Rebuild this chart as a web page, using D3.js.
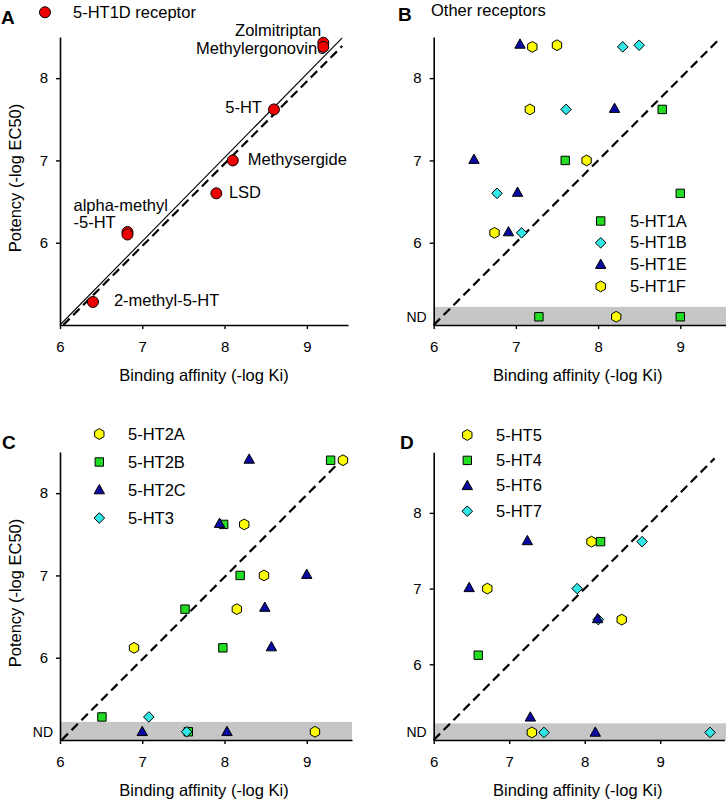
<!DOCTYPE html>
<html>
<head>
<meta charset="utf-8">
<script src="https://cdn.jsdelivr.net/npm/d3@7"></script>
<style>
  body { margin: 0; background: #fff; }
  svg { display: block; font-family: "Liberation Sans", Arial, sans-serif; }
</style>
</head>
<body>
<svg id="chart" width="726" height="802"></svg>
<script>
// values; ND = not determined (plotted in grey band)
const ND = 5.1;
const xTicks = [6, 7, 8, 9];
const yTicks = [6, 7, 8];

// A: 5-HT1D
const ht1dNames = ["Zolmitriptan", "Methylergonovine", "5-HT", "Methysergide", "LSD", "alpha-methyl-5-HT", "alpha-methyl-5-HT", "2-methyl-5-HT"];
const ht1dKi = [9.2, 9.2, 8.6, 8.1, 7.9, 6.82, 6.82, 6.4];
const ht1dEc50 = [8.43, 8.38, 7.62, 7.0, 6.6, 6.13, 6.1, 5.28];
const fitLine = [[6, 5], [9.43, 8.49]];
const unityLineA = [[6.04, 5], [9.43, 8.39]];

// B: other 5-HT1 receptors
const ht1aKi = [8.78, 7.6, 9.0, 7.28, 9.0];
const ht1aEc50 = [7.62, 7.0, 6.6, ND, ND];
const ht1bKi = [8.3, 8.5, 7.61, 6.77, 7.07];
const ht1bEc50 = [8.38, 8.4, 7.62, 6.6, 6.12];
const ht1eKi = [7.05, 8.2, 6.49, 7.02, 6.91];
const ht1eEc50 = [8.41, 7.63, 7.01, 6.61, 6.13];
const ht1fKi = [7.2, 7.5, 7.17, 7.86, 6.74, 8.22];
const ht1fEc50 = [8.38, 8.4, 7.62, 7.0, 6.12, ND];

// C: 5-HT2 / 5-HT3
const ht2aKi = [9.44, 8.24, 8.48, 8.15, 6.9, 9.1];
const ht2aEc50 = [8.4, 7.62, 7.0, 6.59, 6.12, ND];
const ht2bKi = [9.29, 7.99, 8.19, 7.52, 7.98, 6.51, 7.56];
const ht2bEc50 = [8.4, 7.62, 7.0, 6.59, 6.12, 5.28, ND];
const ht2cKi = [8.3, 7.94, 9.0, 8.49, 8.57, 7.0, 8.03];
const ht2cEc50 = [8.41, 7.63, 7.01, 6.61, 6.13, ND, ND];
const ht3Ki = [7.08, 7.54];
const ht3Ec50 = [5.28, ND];

// D: 5-HT4 to 5-HT7
const ht5Ki = [8.09, 6.71, 8.49, 7.3];
const ht5Ec50 = [7.62, 7.0, 6.59, ND];
const ht4Ki = [8.21, 6.59];
const ht4Ec50 = [7.62, 6.12];
const ht6Ki = [7.24, 6.47, 8.17, 7.28, 8.14];
const ht6Ec50 = [7.63, 7.01, 6.6, 5.3, ND];
const ht7Ki = [8.76, 7.9, 8.18, 7.46, 9.66];
const ht7Ec50 = [7.62, 7.0, 6.59, ND, ND];

const svg = d3.select("#chart");
const FONT = 16.5;
const colors = {circle: "#ee0000", square: "#22dd22", diamond: "#33e6e6", triangle: "#0a0aa0", hexagon: "#ffff00"};

function shapePath(type) {
  const p = d3.path();
  if (type === "circle") { p.arc(0, 0, 5.5, 0, 2 * Math.PI); }
  else if (type === "square") { p.rect(-4.2, -4.2, 8.4, 8.4); }
  else if (type === "diamond") { p.moveTo(0, -5.3); p.lineTo(5.3, 0); p.lineTo(0, 5.3); p.lineTo(-5.3, 0); p.closePath(); }
  else if (type === "triangle") { p.moveTo(0, -5.5); p.lineTo(5.2, 3.8); p.lineTo(-5.2, 3.8); p.closePath(); }
  else if (type === "hexagon") {
    for (let i = 0; i < 6; i++) {
      const a = Math.PI / 2 + i * Math.PI / 3;
      const px = 5.4 * Math.cos(a), py = 5.4 * Math.sin(a);
      i === 0 ? p.moveTo(px, py) : p.lineTo(px, py);
    }
    p.closePath();
  }
  return p.toString();
}

function drawPanel(cfg) {
  const g = svg.append("g");
  const x = d3.scaleLinear().domain(cfg.xDomain).range(cfg.xRange);
  const y = d3.scaleLinear().domain(cfg.yDomain).range(cfg.yRange);

  if (cfg.nd) {
    g.append("rect")
      .attr("x", x(6)).attr("y", y(5.22))
      .attr("width", cfg.bandEnd - x(6)).attr("height", y(5) - y(5.22))
      .attr("fill", "#c6c6c6");
  }

  const xAxis = g.append("g")
    .attr("transform", `translate(0,${y(cfg.yDomain[0])})`)
    .call(d3.axisBottom(x).tickValues(xTicks).tickSize(4).tickSizeOuter(0).tickPadding(12).tickFormat(d3.format("d")));
  const yAxis = g.append("g")
    .attr("transform", `translate(${x(cfg.xDomain[0])},0)`)
    .call(d3.axisLeft(y).tickValues(yTicks).tickSize(4).tickSizeOuter(0).tickPadding(8).tickFormat(d3.format("d")));
  [xAxis, yAxis].forEach(a => {
    a.select(".domain").attr("stroke", "#000").attr("stroke-width", 1.6);
    a.selectAll(".tick line").attr("stroke", "#000").attr("stroke-width", 1.4);
    a.selectAll("text").attr("font-size", 15).attr("fill", "#000").attr("font-family", "Liberation Sans, Arial, sans-serif");
  });

  if (cfg.nd) {
    g.append("text")
      .attr("x", x(6) - 7).attr("y", y(ND) + 5)
      .attr("text-anchor", "end").attr("font-size", 14).text("ND");
  }

  if (cfg.fit) {
    g.append("line")
      .attr("x1", x(cfg.fit[0][0])).attr("y1", y(cfg.fit[0][1]))
      .attr("x2", x(cfg.fit[1][0])).attr("y2", y(cfg.fit[1][1]))
      .attr("stroke", "#000").attr("stroke-width", 1.1);
  }
  g.append("line")
    .attr("x1", x(cfg.unity[0][0])).attr("y1", y(cfg.unity[0][1]))
    .attr("x2", x(cfg.unity[1][0])).attr("y2", y(cfg.unity[1][1]))
    .attr("stroke", "#000").attr("stroke-width", 2.2).attr("stroke-dasharray", "9,5");

  // point labels (panel A)
  if (cfg.labels) {
    cfg.labels.forEach(l => {
      const t = g.append("text")
        .attr("x", x(l.kx) + l.dx).attr("y", y(l.ky) + l.dy)
        .attr("text-anchor", l.anchor).attr("font-size", FONT);
      l.lines.forEach((s, i) => t.append("tspan").attr("x", x(l.kx) + l.dx).attr("dy", i ? 16.6 : 0).text(s));
    });
  }

  cfg.series.forEach(s => {
    g.selectAll(null)
      .data(s.ki.map((k, i) => ({k, e: s.ec50[i]})))
      .enter().append("path")
      .attr("d", shapePath(s.shape))
      .attr("transform", d => `translate(${x(d.k)},${y(d.e)})`)
      .attr("fill", colors[s.shape]).attr("stroke", "#000").attr("stroke-width", 1);
  });

  // legend
  cfg.legend.items.forEach((it, i) => {
    const ly = cfg.legend.y + i * cfg.legend.step;
    g.append("path").attr("d", shapePath(it.shape))
      .attr("transform", `translate(${cfg.legend.mx},${ly})`)
      .attr("fill", colors[it.shape]).attr("stroke", "#000").attr("stroke-width", 1);
    g.append("text").attr("x", cfg.legend.tx).attr("y", ly + 5.5)
      .attr("font-size", FONT).text(it.label);
  });

  g.append("text").attr("x", cfg.letter[0]).attr("y", cfg.letter[1])
    .attr("font-size", 19).attr("font-weight", "bold").text(cfg.letter[2]);

  g.append("text")
    .attr("x", (cfg.xRange[0] + cfg.xRange[0] + 288) / 2).attr("y", cfg.xTitleY)
    .attr("text-anchor", "middle").attr("font-size", FONT)
    .text("Binding affinity (-log Ki)");
  if (cfg.yTitle) {
    g.append("text")
      .attr("transform", `translate(21,${cfg.yTitle}) rotate(-90)`)
      .attr("text-anchor", "middle").attr("font-size", FONT)
      .text("Potency (-log EC50)");
  }
  return {x, y};
}

const labelsA = [
  {i: 0, lines: ["Zolmitriptan"], dx: -2, dy: -6.5, anchor: "end"},
  {i: 1, lines: ["Methylergonovine"], dx: 3, dy: 7, anchor: "end"},
  {i: 2, lines: ["5-HT"], dx: -12, dy: 3.5, anchor: "end"},
  {i: 3, lines: ["Methysergide"], dx: 15, dy: 4.5, anchor: "start"},
  {i: 4, lines: ["LSD"], dx: 12.6, dy: 5, anchor: "start"},
  {i: 5, lines: ["alpha-methyl", "-5-HT"], dx: -54, dy: -20.6, anchor: "start"},
  {i: 7, lines: ["2-methyl-5-HT"], dx: 21, dy: 4.5, anchor: "start"}
].map(l => ({...l, kx: ht1dKi[l.i], ky: ht1dEc50[l.i], name: ht1dNames[l.i]}));

drawPanel({
  xDomain: [6, 9.5], xRange: [60, 348], yDomain: [5, 8.5], yRange: [325, 37],
  unity: unityLineA, fit: fitLine, labels: labelsA,
  series: [{ki: ht1dKi, ec50: ht1dEc50, shape: "circle"}],
  legend: {mx: 45, tx: 73, y: 12.3, step: 0, items: [{shape: "circle", label: "5-HT1D receptor"}]},
  letter: [1, 24, "A"], xTitleY: 381, yTitle: 178
});

drawPanel({
  xDomain: [6, 9.55], xRange: [433.7, 725.5], yDomain: [5, 8.5], yRange: [325, 37],
  unity: [[6, 5], [9.45, 8.45]], nd: true, bandEnd: 726,
  series: [
    {ki: ht1aKi, ec50: ht1aEc50, shape: "square"},
    {ki: ht1bKi, ec50: ht1bEc50, shape: "diamond"},
    {ki: ht1eKi, ec50: ht1eEc50, shape: "triangle"},
    {ki: ht1fKi, ec50: ht1fEc50, shape: "hexagon"}
  ],
  legend: {mx: 600.7, tx: 630, y: 221, step: 21.8, items: [
    {shape: "square", label: "5-HT1A"}, {shape: "diamond", label: "5-HT1B"},
    {shape: "triangle", label: "5-HT1E"}, {shape: "hexagon", label: "5-HT1F"}]},
  letter: [398, 21, "B"], xTitleY: 381
});
svg.append("text").attr("x", 431).attr("y", 15.5).attr("font-size", FONT).text("Other receptors");

drawPanel({
  xDomain: [6, 9.55], xRange: [60, 352], yDomain: [5, 8.5], yRange: [740, 452],
  unity: [[6.02, 5], [9.4, 8.38]], nd: true, bandEnd: 352,
  series: [
    {ki: ht2bKi, ec50: ht2bEc50, shape: "square"},
    {ki: ht2cKi, ec50: ht2cEc50, shape: "triangle"},
    {ki: ht2aKi, ec50: ht2aEc50, shape: "hexagon"},
    {ki: ht3Ki, ec50: ht3Ec50, shape: "diamond"}
  ],
  legend: {mx: 99.3, tx: 128, y: 434, step: 28, items: [
    {shape: "hexagon", label: "5-HT2A"}, {shape: "square", label: "5-HT2B"},
    {shape: "triangle", label: "5-HT2C"}, {shape: "diamond", label: "5-HT3"}]},
  letter: [2, 449, "C"], xTitleY: 796, yTitle: 593
});

drawPanel({
  xDomain: [6, 9.85], xRange: [433.7, 724.4], yDomain: [5, 8.8], yRange: [740, 452.3],
  unity: [[6, 5], [9.72, 8.72]], nd: true, bandEnd: 726,
  series: [
    {ki: ht7Ki, ec50: ht7Ec50, shape: "diamond"},
    {ki: ht4Ki, ec50: ht4Ec50, shape: "square"},
    {ki: ht6Ki, ec50: ht6Ec50, shape: "triangle"},
    {ki: ht5Ki, ec50: ht5Ec50, shape: "hexagon"}
  ],
  legend: {mx: 467.3, tx: 496, y: 435, step: 25.4, items: [
    {shape: "hexagon", label: "5-HT5"}, {shape: "square", label: "5-HT4"},
    {shape: "triangle", label: "5-HT6"}, {shape: "diamond", label: "5-HT7"}]},
  letter: [400, 449, "D"], xTitleY: 796
});
</script>
</body>
</html>
